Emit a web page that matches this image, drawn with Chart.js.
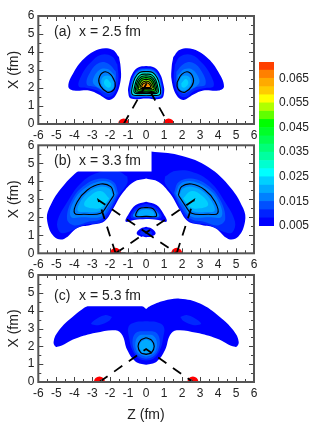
<!DOCTYPE html>
<html><head><meta charset="utf-8">
<script src="https://cdn.jsdelivr.net/npm/chart.js@4"></script>
<style>html,body{margin:0;padding:0;background:#fff;width:332px;height:430px;overflow:hidden}canvas{position:absolute;left:0;top:0}</style>
</head><body>
<canvas id="pa" width="332" height="430"></canvas>
<canvas id="pb" width="332" height="430"></canvas>
<canvas id="pc" width="332" height="430"></canvas>
<canvas id="bar" width="332" height="430"></canvas>
<script>
const axisTickValues=[-6,-5,-4,-3,-2,-1,0,1,2,3,4,5,6];
const xTickValues=[0,1,2,3,4,5,6];
const colorTicks=[0.005,0.015,0.025,0.035,0.045,0.055,0.065];
const colorBands=['#0000ff','#0022ff','#0050ff','#0080ff','#00aaff','#00d0ff','#00ffff','#00ffd0','#00ffa0','#00ff78','#00ff50','#00ff28','#00ff00','#60ff00','#b0ff00','#ffff00','#ffcc00','#ffaa00','#ff8000','#ff4000','#ff0000'];
const colorEdges=[0.005,0.0083,0.0116,0.015,0.0183,0.0216,0.025,0.0283,0.0316,0.035,0.0383,0.0416,0.045,0.0483,0.0516,0.055,0.0583,0.0616,0.065,0.0683,0.0716,0.0716];
const B0='#0000ff',B1='#0028ff',B2='#0055ff',B3='#0080ff',B4='#00aaff',B5='#00d0ff';

const aLobe0=[[1.51,3.72],[1.88,4.13],[2.63,4.15],[3.46,3.63],[4.02,2.89],[4.33,2.09],[4.02,1.86],[3.18,1.86],[2.63,1.64],[2.07,1.34],[1.7,1.58],[1.42,2.42],[1.42,3.17],[1.51,3.72]];
const aLobe1=[[1.6,3.3],[1.9,3.75],[2.5,3.85],[3.1,3.4],[3.6,2.7],[3.75,2.1],[3.3,2.0],[2.7,1.85],[2.2,1.5],[1.8,1.65],[1.55,2.4],[1.6,3.3]];
const aLobe2=[[1.68,2.9],[2.1,3.35],[2.6,3.4],[3.1,2.9],[3.3,2.2],[2.8,2.05],[2.3,1.75],[2.0,1.7],[1.7,2.2],[1.68,2.9]];
const aLobe3=[[1.75,2.7],[2.15,3.05],[2.6,3.0],[2.95,2.5],[2.9,2.2],[2.4,1.9],[2.05,1.8],[1.78,2.2],[1.75,2.7]];
const aLobe4=[[1.8,2.3],[2.0,2.65],[2.35,2.65],[2.5,2.35],[2.35,2.0],[2.05,1.85],[1.82,2.0],[1.8,2.3]];
const aLobe5=[[1.95,2.25],[2.2,2.5],[2.35,2.3],[2.2,2.05],[2.0,2.05],[1.95,2.25]];
const aLobeLine=[[1.73,2.33],[1.98,2.76],[2.35,2.89],[2.63,2.51],[2.53,2.09],[2.16,1.77],[1.88,1.83],[1.73,2.05],[1.73,2.33]];
const aRings=[
 [B0,0,[[0,3.22],[.45,3.14],[.78,2.77],[.96,2.2],[1.0,1.78],[.85,1.42],[0,1.42]]],
 [B1,0,[[0,3.12],[.42,3.05],[.72,2.69],[.89,2.16],[.93,1.76],[.79,1.48],[0,1.48]]],
 ['#0070ff',0,[[0,3.05],[.4,2.98],[.69,2.65],[.85,2.13],[.88,1.74],[.75,1.52],[0,1.52]]],
 ['#00a0ff',0,[[0,2.98],[.38,2.92],[.66,2.6],[.81,2.1],[.84,1.72],[.71,1.56],[0,1.56]]],
 ['#00e0ff',1,[[0,2.92],[.36,2.86],[.62,2.56],[.77,2.07],[.8,1.7],[.68,1.6],[0,1.6]]],
 ['#00ffd0',0,[[0,2.85],[.34,2.79],[.58,2.5],[.72,2.04],[.75,1.74],[.64,1.65],[0,1.65]]],
 ['#00ffa0',1,[[0,2.78],[.31,2.73],[.53,2.46],[.65,2.03],[.68,1.78],[.58,1.7],[0,1.7]]],
 ['#00ff60',1,[[0,2.68],[.27,2.63],[.47,2.4],[.58,2.02],[.6,1.83],[.51,1.76],[0,1.76]]],
 ['#00ff00',1,[[0,2.58],[.23,2.54],[.41,2.34],[.5,2.03],[.52,1.88],[.44,1.82],[0,1.82]]],
 ['#90ff00',1,[[0,2.48],[.2,2.44],[.34,2.28],[.42,2.05],[.44,1.95],[.37,1.9],[0,1.9]]],
 ['#ffff00',1,[[0,2.38],[.15,2.35],[.27,2.22],[.33,2.08],[.34,2.02],[.29,1.98],[0,1.98]]],
 ['#ffaa00',1,[[0,2.3],[.11,2.27],[.2,2.2],[.24,2.1],[.25,2.06],[.21,2.03],[0,2.03]]],
 ['#ff8000',0,[[0,2.22],[.08,2.2],[.13,2.16],[.15,2.12],[.15,2.1],[.1,2.08],[0,2.08]]]
];
const aDots=[[-1.25,0],[1.25,0]];
const aDash1=[[-1.25,0],[0,2.2],[1.25,0]];
const aDash2=[[-1.25,0],[1.25,0]];

const bOuter=[[0,5.68],[.27,5.65],[1.79,5.46],[3.27,4.9],[4.57,3.8],[5.4,2.5],[5.5,1.76],[5.13,.93],[4.57,.8],[3.83,1.4],[3.09,1.57],[2.34,1.76],[1.88,2.4],[1.32,3.33],[.67,3.98],[0,4.16]];
const bLobe1=[[1.05,4.26],[1.6,4.57],[2.53,4.53],[3.55,3.98],[4.38,2.87],[4.94,1.76],[4.8,1.17],[4.38,1.17],[3.46,1.57],[2.53,1.72],[2.06,2.2],[1.51,3.24],[1.05,3.89],[1.05,4.26]];
const bLobe2=[[1.55,3.35],[1.8,3.95],[2.5,4.15],[3.4,3.8],[4.1,3.0],[4.4,1.9],[4.0,1.55],[3.2,1.75],[2.5,1.9],[2.0,2.5],[1.55,3.35]];
const bLobe3=[[1.65,3.3],[1.9,3.85],[2.5,4.0],[3.35,3.65],[4.0,2.95],[4.2,2.05],[3.5,2.0],[2.5,2.05],[2.1,2.6],[1.65,3.3]];
const bLobe4=[[1.85,3.25],[2.05,3.6],[2.55,3.7],[3.2,3.4],[3.7,2.8],[3.8,2.35],[3.4,2.3],[2.55,2.35],[2.2,2.75],[1.85,3.25]];
const bLobe5=[[2.05,3.05],[2.5,3.45],[3.1,3.2],[3.45,2.7],[3.0,2.5],[2.5,2.55],[2.05,3.05]];
const bLobeLine=[[1.79,3.24],[1.97,3.7],[2.53,3.85],[3.27,3.52],[3.83,2.87],[3.98,2.22],[3.46,2.17],[2.53,2.22],[2.16,2.68],[1.79,3.24]];
const bDome0=[[0,2.87],[.58,2.68],[.95,2.22],[1.14,1.76],[.67,1.85],[0,1.9]];
const bDome1=[[0,2.75],[.55,2.55],[.85,2.15],[.8,1.95],[0,1.95]];
const bDome2=[[0,2.6],[.5,2.4],[.72,2.05],[0,2.0]];
const bDome3=[[0,2.45],[.35,2.35],[.45,2.1],[0,2.1]];
const bDomeLine=[[0,2.55],[.38,2.48],[.55,2.25],[.55,2.05],[0,2.05]];
const bLens0=[[0,1.48],[.3,1.38],[.53,1.11],[.3,.93],[0,.89]];
const bLens1=[[0,1.38],[.2,1.3],[.34,1.11],[.2,1.0],[0,.97]];
const bBox=[[-6,4.55],[.3,4.55],[.3,6],[-6,6],[-6,4.55]];
const bDots=[[-1.7,0],[1.7,0]];
const bDash1=[[-1.7,0],[-2.65,2.95],[0,1.15],[2.65,2.95],[1.7,0]];
const bDash2=[[-1.7,0],[0,1.15],[1.7,0]];
const bDash3=[[-1.7,0],[1.7,0]];

const cOuter=[[0,4.1],[.2,4.25],[1.0,4.55],[1.88,4.67],[3.0,4.4],[4.1,3.65],[4.85,2.9],[5.15,2.25],[4.95,1.97],[3.92,2.44],[2.8,2.76],[1.7,2.9],[1.33,2.63],[1.05,1.79],[.58,1.14],[0,.97]];
const cBox=[[-6,4.25],[.2,4.25],[.2,6],[-6,6],[-6,4.25]];
const cLens=[[1.9,3.65],[2.3,3.75],[2.9,3.45],[3.05,3.25],[2.6,3.2],[2.1,3.4],[1.9,3.65]];
const cCol1=[[0,3.4],[.6,3.35],[.98,3.1],[.95,2.5],[.75,1.75],[.4,1.3],[0,1.2]];
const cCol2=[[0,2.85],[.5,2.8],[.75,2.4],[.65,1.75],[.35,1.4],[0,1.3]];
const cCol3=[[0,2.65],[.4,2.6],[.6,2.2],[.5,1.7],[.25,1.5],[0,1.42]];
const cCol4=[[0,2.4],[.28,2.25],[.38,2.0],[.25,1.7],[0,1.62]];
const cColLine=[[0,2.48],[.3,2.35],[.45,2.0],[.3,1.65],[0,1.55]];
const cDots=[[-2.6,0],[2.6,0]];
const cDash1=[[-2.6,0],[0,1.85],[2.6,0]];
const cDash2=[[-2.6,0],[2.6,0]];

const TXT='#222';
const FONT='Liberation Sans';
const toXY=a=>a.map(p=>({x:p[0],y:p[1]}));
const flip=a=>a.map(p=>[-p[0],p[1]]);
const both=a=>a.concat(flip(a).reverse());
const fillDs=(pts,color,t=0.4)=>({type:'scatter',data:toXY(pts),showLine:true,fill:'shape',backgroundColor:color,borderColor:color,borderWidth:0,pointRadius:0,tension:t});
const lineDs=(pts,t=0.4)=>({type:'scatter',data:toXY(pts),showLine:true,fill:false,borderColor:'#000',borderWidth:1.1,pointRadius:0,tension:t});
const dashDs=pts=>({type:'scatter',data:toXY(pts),showLine:true,fill:false,borderColor:'#000',borderWidth:1.8,borderDash:[10,8],pointRadius:0,tension:0});
const dotDs=pts=>({type:'scatter',data:toXY(pts),showLine:false,pointRadius:5.5,pointBackgroundColor:'#ff0000',pointBorderWidth:0});
const pair=(pts,color)=>[fillDs(pts,color),fillDs(flip(pts),color)];
const pairLine=pts=>[lineDs(pts),lineDs(flip(pts))];

const aSets=[
 ...pair(aLobe0,B0),...pair(aLobe1,B1),...pair(aLobe2,B2),...pair(aLobe3,B3),...pair(aLobe4,B4),...pair(aLobe5,B5),...pairLine(aLobeLine),
 ...aRings.flatMap(r=>{const o=both(r[2]);const s=[fillDs(o,r[0])];if(r[1])s.push(lineDs(o));return s;}),
 dotDs(aDots),dashDs(aDash1),dashDs(aDash2)];
const bSets=[
 fillDs(both(bOuter),B0),
 ...pair(bLobe1,B1),...pair(bLobe2,B2),...pair(bLobe3,B3),...pair(bLobe4,B4),...pair(bLobe5,B5),...pairLine(bLobeLine),
 fillDs(bBox,'#ffffff',0),
 fillDs(both(bDome0),B0),fillDs(both(bDome1),B1),fillDs(both(bDome2),B3),fillDs(both(bDome3),B4),lineDs(both(bDomeLine)),
 fillDs(both(bLens0),B0),fillDs(both(bLens1),B1),
 dotDs(bDots),dashDs(bDash1),dashDs(bDash2),dashDs(bDash3)];
const cSets=[
 fillDs(both(cOuter),B0),
 fillDs(cBox,'#ffffff',0),
 ...pair(cLens,B1),
 fillDs(both(cCol1),B1),fillDs(both(cCol2),B2),fillDs(both(cCol3),B3),fillDs(both(cCol4),B4),lineDs(both(cColLine)),
 dotDs(cDots),dashDs(cDash1),dashDs(cDash2)];

const frame={id:'frame',afterDatasetsDraw(ch,_a,o){
 const c=ch.ctx,A=ch.chartArea,sx=ch.scales.x,sy=ch.scales.y;
 c.save();c.strokeStyle='#444';c.lineWidth=1;c.beginPath();
 for(let i=-12;i<=12;i++){const v=i/2,l=i%2===0?5:3,p=Math.round(sx.getPixelForValue(v))+.5;
  c.moveTo(p,A.bottom);c.lineTo(p,A.bottom-l);c.moveTo(p,A.top);c.lineTo(p,A.top+l);}
 for(let i=0;i<=12;i++){const v=i/2,l=i%2===0?5:3,p=Math.round(sy.getPixelForValue(v))+.5;
  c.moveTo(A.left,p);c.lineTo(A.left+l,p);c.moveTo(A.right,p);c.lineTo(A.right-l,p);}
 c.stroke();c.lineWidth=2;c.strokeStyle='#555';c.strokeRect(A.left,A.top,A.right-A.left,A.bottom-A.top);
 c.fillStyle=TXT;c.font='14px "Liberation Sans"';c.textBaseline='middle';c.textAlign='left';
 c.fillText(o.tag,o.tagX,o.textY);c.fillText(o.text,o.textX,o.textY);
 c.restore();
}};

function panel(id,sets,top,bottom,tag,text,textY){
 new Chart(document.getElementById(id),{
  data:{datasets:sets.slice().reverse()},
  plugins:[frame],
  options:{responsive:false,animation:false,events:[],
   layout:{padding:{left:0,right:332-254,top:top,bottom:430-bottom-24}},
   plugins:{legend:{display:false},tooltip:{enabled:false},title:{display:false},
    frame:{tag,text,tagX:54,textX:79,textY}},
   scales:{
    x:{type:'linear',min:-6,max:6,grid:{display:false,drawTicks:false},border:{display:false},
     afterBuildTicks:s=>{s.ticks=axisTickValues.map(value=>({value}));},
     afterFit:s=>{s.height=24;},
     ticks:{color:TXT,font:{family:FONT,size:12},padding:4,maxRotation:0,autoSkip:false}},
    y:{type:'linear',min:0,max:6,grid:{display:false,drawTicks:false},border:{display:false},
     afterBuildTicks:s=>{s.ticks=xTickValues.map(value=>({value}));},
     afterFit:s=>{s.width=38.3;},
     title:{display:true,text:'X (fm)',color:TXT,font:{family:FONT,size:14},padding:{top:6,bottom:0}},
     ticks:{color:TXT,font:{family:FONT,size:12},padding:4,autoSkip:false}}
   }}
 });
}
panel('pa',aSets,16,124,'(a)','x = 2.5 fm',32);
panel('pb',bSets,145.3,253.3,'(b)','x = 3.3 fm',160.7);
panel('pc',cSets,275,382,'(c)','x = 5.3 fm',295.7);

new Chart(document.getElementById('bar'),{
 type:'bar',
 data:{labels:[''],datasets:colorBands.map((col,i)=>({data:[[colorEdges[i],colorEdges[i+1]]],backgroundColor:col,borderWidth:0,barPercentage:1,categoryPercentage:1,grouped:false}))},
 plugins:[{id:'ztitle',afterDraw(ch){const c=ch.ctx;c.save();c.fillStyle=TXT;c.font='14px "Liberation Sans"';c.textAlign='center';c.textBaseline='middle';c.fillText('Z (fm)',146,415);c.restore();}}],
 options:{responsive:false,animation:false,events:[],
  layout:{padding:{left:259,right:0,top:62,bottom:204}},
  plugins:{legend:{display:false},tooltip:{enabled:false}},
  scales:{
   x:{display:false},
   y:{position:'right',min:0.005,max:0.0716,grid:{display:false,drawTicks:false},border:{display:false},
    afterBuildTicks:s=>{s.ticks=colorTicks.map(value=>({value}));},
    afterFit:s=>{s.width=58;},
    ticks:{color:TXT,font:{family:FONT,size:12},padding:5,autoSkip:false,callback:v=>Number(v).toFixed(3)}}
  }}
});
</script>
</body></html>
